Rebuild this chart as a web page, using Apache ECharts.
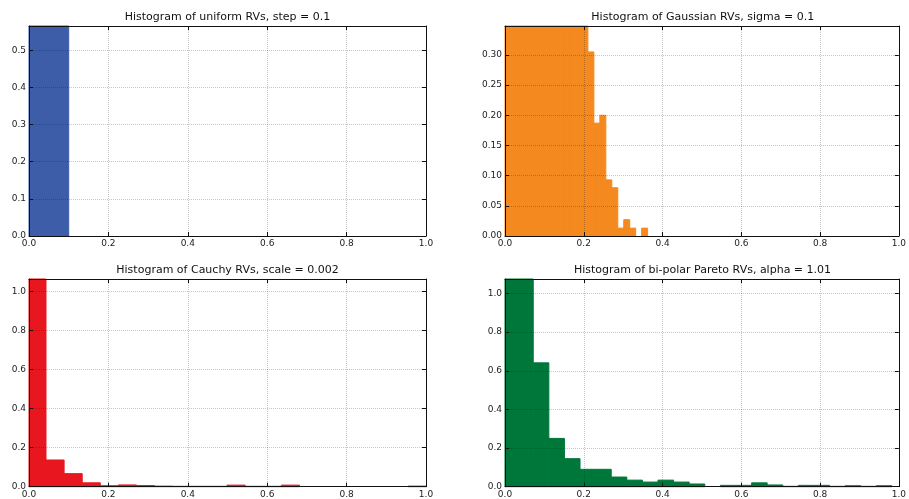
<!DOCTYPE html>
<html>
<head>
<meta charset="utf-8">
<script src="https://cdn.jsdelivr.net/npm/echarts@6/dist/echarts.min.js"></script>
<style>
  html, body { margin: 0; padding: 0; background: #fff; }
  #chart { width: 909px; height: 499px; }
</style>
</head>
<body>
<div id="chart"></div>
<script>
// Shared x ticks for all four histograms
const xTickStep = 0.2;

// Uniform RVs: one bin [0, 0.1]
const uniformBinStart = 0;
const uniformBinWidth = 0.1;
const uniformHeights = [10.0];

// Gaussian RVs (sigma = 0.1): the first 14 bins run off the top of the axes
const gaussBinStart = -0.0019;
const gaussBinWidth = 0.01517;
const gaussHeights = [2.6, 2.6, 2.5, 2.4, 2.3, 2.1, 1.9, 1.7, 1.5, 1.3, 1.1, 0.9, 0.7, 0.5,
                      0.305, 0.187, 0.200, 0.093, 0.080, 0.013, 0.027, 0.013, 0.0, 0.013];

// Cauchy RVs (scale = 0.002)
const cauchyBinStart = -0.0028;
const cauchyBinWidth = 0.04561;
const cauchyHeights = [3.5, 0.137, 0.067, 0.020, 0.005, 0.009, 0.006, 0.003, 0.002, 0.002, 0.002,
                       0.008, 0.002, 0.002, 0.008, 0.0, 0.0, 0.0, 0.0, 0.0, 0.0, 0.003];

// Bi-polar Pareto RVs (alpha = 1.01)
const paretoBinStart = -0.0075;
const paretoBinWidth = 0.0396;
const paretoHeights = [4.0, 1.6, 0.641, 0.250, 0.145, 0.090, 0.090, 0.050, 0.034, 0.024, 0.034,
                       0.024, 0.014, 0.0, 0.007, 0.007, 0.020, 0.009, 0.002, 0.007, 0.007,
                       0.002, 0.005, 0.002, 0.005, 0.0];

const titles = [
  'Histogram of uniform RVs, step = 0.1',
  'Histogram of Gaussian RVs, sigma = 0.1',
  'Histogram of Cauchy RVs, scale = 0.002',
  'Histogram of bi-polar Pareto RVs, alpha = 1.01'
];

function toBins(start, width, heights) {
  return heights.map((h, i) => [start + i * width, start + (i + 1) * width, h]);
}

const panels = [
  { title: titles[0], color: '#3e5da9', bins: toBins(uniformBinStart, uniformBinWidth, uniformHeights),
    yMax: 0.565, yStep: 0.1, digits: 1, box: { left: 29, top: 26, width: 397, height: 210 } },
  { title: titles[1], color: '#f4891f', bins: toBins(gaussBinStart, gaussBinWidth, gaussHeights),
    yMax: 0.348, yStep: 0.05, digits: 2, box: { left: 505, top: 26, width: 395.5, height: 210 } },
  { title: titles[2], color: '#e8171f', bins: toBins(cauchyBinStart, cauchyBinWidth, cauchyHeights),
    yMax: 1.065, yStep: 0.2, digits: 1, box: { left: 29, top: 279, width: 397, height: 207.7 } },
  { title: titles[3], color: '#00773a', bins: toBins(paretoBinStart, paretoBinWidth, paretoHeights),
    yMax: 1.075, yStep: 0.2, digits: 1, box: { left: 505, top: 279, width: 395, height: 207.7 } }
];

const FONT = 'DejaVu Sans';
const gridLine = { show: true, lineStyle: { color: 'rgba(0,0,0,0.22)', width: 1, type: [1, 1] } };
const spine = { show: true, onZero: false, lineStyle: { color: '#111', width: 1 } };
const tick = { show: true, inside: true, length: 4, lineStyle: { color: '#111', width: 1 } };

const option = {
  animation: false,
  backgroundColor: '#fff',
  title: [], grid: [], xAxis: [], yAxis: [], series: []
};

panels.forEach((p, i) => {
  option.grid.push(Object.assign({ containLabel: false, show: false }, p.box));
  option.title.push({
    text: p.title,
    left: p.box.left + p.box.width / 2,
    top: p.box.top - 14,
    textAlign: 'center',
    padding: 0,
    textStyle: { fontFamily: FONT, fontSize: 11, fontWeight: 'normal', color: '#111' }
  });

  const xBase = { type: 'value', gridIndex: i, min: 0, max: 1, interval: xTickStep, z: 3,
                  axisLine: spine, axisTick: tick };
  option.xAxis.push(Object.assign({}, xBase, {
    position: 'bottom', splitLine: gridLine,
    axisLabel: { show: true, margin: 3, fontFamily: FONT, fontSize: 9, color: '#222',
                 formatter: v => v.toFixed(1) }
  }));
  option.xAxis.push(Object.assign({}, xBase, {
    position: 'top', splitLine: { show: false }, axisLabel: { show: false }
  }));

  const yBase = { type: 'value', gridIndex: i, min: 0, max: p.yMax, interval: p.yStep, z: 3,
                  axisLine: spine, axisTick: tick };
  option.yAxis.push(Object.assign({}, yBase, {
    position: 'left', splitLine: gridLine,
    axisLabel: { show: true, margin: 3, fontFamily: FONT, fontSize: 9, color: '#222',
                 showMaxLabel: false, formatter: v => v.toFixed(p.digits) }
  }));
  option.yAxis.push(Object.assign({}, yBase, {
    position: 'right', splitLine: { show: false }, axisLabel: { show: false }
  }));

  const color = p.color;
  option.series.push({
    type: 'custom',
    xAxisIndex: 2 * i,
    yAxisIndex: 2 * i,
    silent: true,
    z: 2,
    data: p.bins,
    renderItem: function (params, api) {
      const h = api.value(2);
      if (!(h > 0)) return null;
      const a = api.coord([api.value(0), 0]);
      const b = api.coord([api.value(1), h]);
      const cs = params.coordSys;
      const shape = echarts.graphic.clipRectByRect(
        { x: a[0], y: b[1], width: b[0] - a[0], height: a[1] - b[1] },
        { x: cs.x, y: cs.y, width: cs.width, height: cs.height }
      );
      if (!shape) return null;
      // a hairline of the fill colour closes the anti-aliasing seams between neighbouring bins
      return { type: 'rect', shape: shape, style: { fill: color, stroke: color, lineWidth: 1 } };
    }
  });
});

const chart = echarts.init(document.getElementById('chart'), null, { renderer: 'canvas' });
chart.setOption(option);
</script>
</body>
</html>
